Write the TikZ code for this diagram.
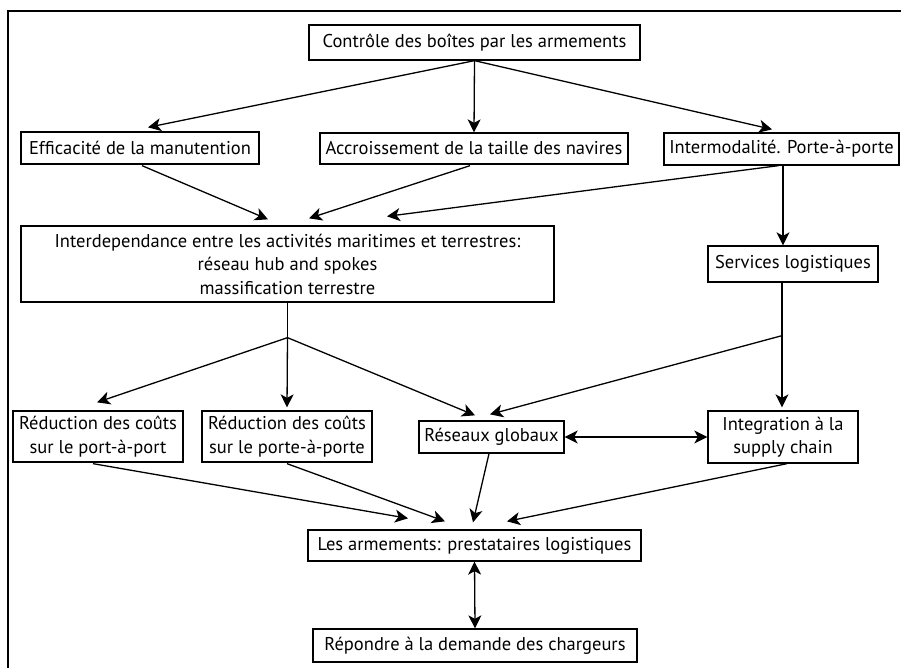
\documentclass[tikz,border=0pt]{standalone}
\usepackage{fontspec}
\setmainfont{PT Sans}
\usetikzlibrary{arrows.meta,calc}
\tikzset{
  box/.style={draw, line width=1.3pt, rectangle, inner sep=0pt, align=center,
    font=\fontsize{18.5}{23.5}\selectfont},
  arr/.style={line width=1.3pt, -{Stealth[length=13pt,width=13pt,inset=3.5pt]}},
  darr/.style={line width=1.3pt, {Stealth[length=13pt,width=13pt,inset=3.5pt]}-{Stealth[length=13pt,width=13pt,inset=3.5pt]}},
  ln/.style={line width=1.3pt}
}
\begin{document}
\begin{tikzpicture}[x=1pt,y=-1pt]
\useasboundingbox (0,0) rectangle (901,668);
\fill[white] (0,0) rectangle (901,668);
\draw[ln] (8,668) -- (8,11) -- (901,11);

\node[box, minimum width=331pt, minimum height=35pt] (top) at (474.5,42.5) {Contrôle des boîtes par les armements};
\node[box, minimum width=238pt, minimum height=32pt] (eff) at (140,148) {Efficacité de la manutention};
\node[box, minimum width=308pt, minimum height=31pt] (acc) at (474,148.5) {Accroissement de la taille des navires};
\node[box, minimum width=235pt, minimum height=32pt] (inter) at (781.5,149) {Intermodalité. Porte-à-porte};
\node[box, minimum width=533pt, minimum height=76pt] (dep) at (287.5,264) {Interdependance entre les activités maritimes et terrestres:\\réseau hub and spokes\\massification terrestre};
\node[box, minimum width=170pt, minimum height=36pt] (serv) at (793,264) {Services logistiques};
\node[box, minimum width=170pt, minimum height=51pt] (red1) at (98,436.5) {Réduction des coûts\\sur le port-à-port};
\node[box, minimum width=170pt, minimum height=51pt] (red2) at (287,436.5) {Réduction des coûts\\sur le porte-à-porte};
\node[box, minimum width=145pt, minimum height=32pt] (res) at (491.5,437) {Réseaux globaux};
\node[box, minimum width=150pt, minimum height=52pt] (integ) at (783,437) {Integration à la\\supply chain};
\node[box, minimum width=333pt, minimum height=31pt] (arm) at (474.5,545.5) {Les armements: prestataires logistiques};
\node[box, minimum width=324pt, minimum height=33pt] (rep) at (475,645.5) {Répondre à la demande des chargeurs};

% from top
\draw[arr] (top.south) -- ($(eff.north)+(8,-4)$);
\draw[arr] (top.south) -- (acc.north);
\draw[arr] (top.south) -- ($(inter.north)+(-9.5,-3)$);

% to dep
\draw[arr] ($(eff.south)+(2,1)$) -- ($(dep.north)+(-19.5,-6)$);
\draw[arr] ($(acc.south)+(-4,1)$) -- ($(dep.north)+(21.5,-7)$);
\draw[arr] ($(inter.south)+(-3,0)$) -- ($(dep.north)+(99.5,-9)$);

% inter to serv
\coordinate (c1) at ($(inter.south)+(1.5,0)$);
\draw[arr] (c1) -- (c1 |- serv.north);

% dep branch
\coordinate (b1) at ($(dep.south)+(0,35)$);
\draw[ln] (dep.south) -- (b1);
\draw[arr] (b1) -- ($(red1.north)+(-1,-8)$);
\draw[arr] (b1) -- ($(red2.north)+(0,-3)$);
\draw[arr] (b1) -- ($(res.north)+(-16.5,-5)$);

% serv branch
\coordinate (c2) at ($(serv.south)+(-11,0)$);
\coordinate (b2) at ($(c2)+(0,53)$);
\draw[ln] (c2) -- (b2);
\draw[arr] (b2) -- ($(integ.north)+(-1,-3)$);
\draw[arr] (b2) -- ($(res.north)+(-1.5,-6)$);

\draw[darr] (res.east) -- (integ.west);

% to arm
\draw[arr] ($(red1.south)+(-5,1)$) -- ($(arm.north)+(-66.5,-11)$);
\draw[arr] ($(red2.south)+(0,1)$) -- ($(arm.north)+(-29.5,-8)$);
\draw[arr] ($(res.south)+(-2.5,0)$) -- ($(arm.north)+(-1.5,-7)$);
\draw[arr] ($(integ.south)+(4,0)$) -- ($(arm.north)+(32.5,-8)$);

\draw[darr] (arm.south) -- (rep.north);
\end{tikzpicture}
\end{document}
